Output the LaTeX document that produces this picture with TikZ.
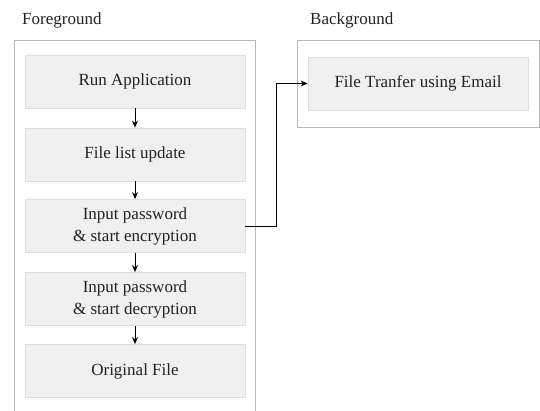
\documentclass[tikz,border=0pt]{standalone}
\usepackage{fontspec}
\setmainfont{Liberation Serif}
\usetikzlibrary{arrows.meta}
\definecolor{outerline}{HTML}{B8B8B8}
\definecolor{stepfill}{HTML}{F0F0F0}
\definecolor{stepline}{HTML}{DEDEDE}
\definecolor{txt}{HTML}{222222}
\tikzset{
  stepbox/.style={draw=stepline, fill=stepfill, line width=0.8pt, minimum width=220pt, minimum height=53pt, inner sep=0pt, align=center, text=txt, font=\fontsize{17}{22}\selectfont},
  groupbox/.style={draw=outerline, line width=1pt},
  grouplabel/.style={anchor=base west, inner sep=0pt, text=txt, font=\fontsize{17}{20}\selectfont},
  arr/.style={-{Stealth[length=7pt,width=6pt]}, line width=0.9pt, black}
}
\begin{document}
\begin{tikzpicture}[x=1pt,y=-1pt]
\clip (0,0) rectangle (540,410);
\fill[white] (0,0) rectangle (540,410);
% group frames
\draw[groupbox] (14,40) rectangle (255,430);
\draw[groupbox] (297,40) rectangle (539,127);
\node[grouplabel] (fglabel) at (22,24) {Foreground};
\node[grouplabel] (bglabel) at (310,24) {Background};
% steps
\node[stepbox] (run) at (135,81.5) {Run Application};
\node[stepbox] (list) at (135,154.5) {File list update};
\node[stepbox] (enc) at (135,226) {Input password\\\& start encryption};
\node[stepbox] (dec) at (135,299) {Input password\\\& start decryption};
\node[stepbox] (orig) at (135,371) {Original File};
\node[stepbox] (mail) at (418,83.5) {File Tranfer using Email};
% connectors
\draw[arr] (run) -- (list);
\draw[arr] (list) -- (enc);
\draw[arr] (enc) -- (dec);
\draw[arr] (dec) -- (orig);
\draw[arr] (enc.east) -- ++(31,0) |- (mail.west);
\end{tikzpicture}
\end{document}
